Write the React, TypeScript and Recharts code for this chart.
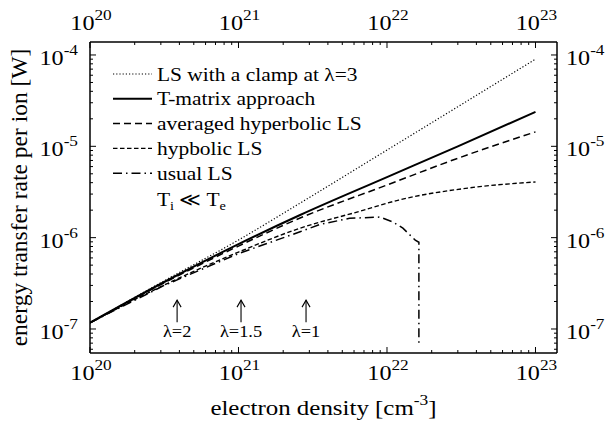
import React from "react";
import { LineChart, Line, XAxis, YAxis, Legend, ReferenceDot } from "recharts";

const FONT = "Liberation Serif, DejaVu Serif, serif";
const txt = { fontFamily: FONT };

// electron density [cm^-3]  ->  energy transfer rate per ion [W]
const clampN = [1e20, 3.16e20, 1e21, 2.6e21, 1e22, 1e23];
const clampW = [1.17e-7, 3.37e-7, 9.42e-7, 2.39e-6, 9.1e-6, 9.0e-5];

const tmatN = [1e20, 3.16e20, 1e21, 2.6e21, 1e22, 3e22, 1e23];
const tmatW = [1.17e-7, 3.27e-7, 8.5e-7, 1.77e-6, 4.6e-6, 1.0e-5, 2.38e-5];

const avgHypN = [1e20, 3.16e20, 1e21, 2.6e21, 1e22, 3e22, 1e23];
const avgHypW = [1.17e-7, 3.2e-7, 8.09e-7, 1.64e-6, 3.77e-6, 7.4e-6, 1.44e-5];

const hypN = [1e20, 3.16e20, 1e21, 2.6e21, 6.6e21, 1.2e22, 3.5e22, 1e23];
const hypW = [1.17e-7, 3.03e-7, 6.95e-7, 1.27e-6, 1.95e-6, 2.58e-6, 3.49e-6, 4.07e-6];

const usualN = [1e20, 3.16e20, 1e21, 2.6e21, 3.5e21, 5.6e21, 9e21, 1.1e22, 1.28e22, 1.55e22, 1.64e22, 1.64e22];
const usualW = [1.17e-7, 3.0e-7, 6.7e-7, 1.16e-6, 1.39e-6, 1.63e-6, 1.68e-6, 1.48e-6, 1.27e-6, 9.4e-7, 8.9e-7, 6.7e-8];

// arrows marking the lambda values
const arrowN = [3.86e20, 1.04e21, 2.85e21];
const arrowLabels = ["λ=2", "λ=1.5", "λ=1"];
const ARROW_TIP_W = 2.07e-7;

// axis ranges and ticks
const X_MIN = 1e20;
const X_MAX = 1.396e23;
const Y_MIN = 5.46e-8;
const Y_MAX = 1.387e-4;
const xDecades = [20, 21, 22, 23];
const yDecades = [-8, -7, -6, -5, -4];
const minorSteps = [1, 2, 3, 4, 5, 6, 7, 8, 9];

const xTicks = xDecades
    .flatMap((e) => minorSteps.map((m) => m * Math.pow(10, e)))
    .filter((v) => v >= X_MIN && v <= X_MAX);
const yTicks = yDecades
    .flatMap((e) => minorSteps.map((m) => m * Math.pow(10, e)))
    .filter((v) => v >= Y_MIN && v <= Y_MAX);

const toRows = (ns: number[], ws: number[]) => ns.map((n, i) => ({ n, w: ws[i] }));

const series = [
    { key: "clamp", name: "LS with a clamp at λ=3", data: toRows(clampN, clampW), dash: "1.2 2", width: 1.2, curve: "monotone" },
    { key: "tmat", name: "T-matrix approach", data: toRows(tmatN, tmatW), dash: undefined, width: 2, curve: "monotone" },
    { key: "avgHyp", name: "averaged hyperbolic LS", data: toRows(avgHypN, avgHypW), dash: "7 4", width: 1.5, curve: "monotone" },
    { key: "hyp", name: "hypbolic LS", data: toRows(hypN, hypW), dash: "4.5 2.5", width: 1.4, curve: "monotone" },
    { key: "usual", name: "usual LS", data: toRows(usualN, usualW), dash: "9 4 1.5 4", width: 1.5, curve: "linear" },
];

// the reference text is a little wide, so text is stretched horizontally
const SText = ({ x, y, sx = 1, anchor = "start", size, children }: any) => (
    <g transform={`translate(${x} ${y}) scale(${sx} 1)`}>
        <text x={0} y={0} textAnchor={anchor} style={txt} fontSize={size} fill="#000">
            {children}
        </text>
    </g>
);

const decadeOf = (v: number) => {
    const lg = Math.log10(v);
    const e = Math.round(lg);
    return { e, major: Math.abs(lg - e) < 1e-6 };
};

const Pow10 = ({ x, y, e, anchor }: any) => (
    <SText x={x} y={y} sx={1.15} anchor={anchor} size={21}>
        10
        <tspan dy={-10} fontSize={15}>
            {e}
        </tspan>
    </SText>
);

const XTick = ({ x, y, payload, side }: any) => {
    const { e, major } = decadeOf(payload.value);
    const dir = side === "top" ? 1 : -1;
    const len = major ? 6 : 3;
    return (
        <g>
            <line x1={x} x2={x} y1={y} y2={y + dir * len} stroke="#000" strokeWidth={1} />
            {major && <Pow10 x={x + 1} y={side === "top" ? y - 12 : y + 27} e={e} anchor="middle" />}
        </g>
    );
};

const YTick = ({ x, y, payload, side }: any) => {
    const { e, major } = decadeOf(payload.value);
    const dir = side === "left" ? 1 : -1;
    const len = major ? 6 : 3;
    return (
        <g>
            <line x1={x} x2={x + dir * len} y1={y} y2={y} stroke="#000" strokeWidth={1} />
            {major && (
                <Pow10
                    x={side === "left" ? x - 12 : x + 9}
                    y={y + 10}
                    e={e}
                    anchor={side === "left" ? "end" : "start"}
                />
            )}
        </g>
    );
};

const ArrowMark = ({ cx, cy, text }: any) => (
    <g>
        <line x1={cx} x2={cx} y1={cy} y2={cy + 22} stroke="#000" strokeWidth={1.1} />
        <polyline
            points={`${cx - 4},${cy + 7} ${cx},${cy} ${cx + 4},${cy + 7}`}
            fill="none"
            stroke="#000"
            strokeWidth={1.1}
        />
        <SText x={cx} y={cy + 37} sx={1.08} anchor="middle" size={17}>
            {text}
        </SText>
    </g>
);

const renderLegend = () => (
    <svg width={280} height={160} style={{ display: "block" }}>
        {series.map((s, i) => {
            const ly = 14 + 24.8 * i;
            return (
                <g key={s.key}>
                    <line
                        x1={3}
                        x2={42}
                        y1={ly}
                        y2={ly}
                        stroke="#000"
                        strokeWidth={s.width}
                        strokeDasharray={s.dash}
                    />
                    <SText x={47} y={ly + 6.5} sx={1.1} size={19.5}>
                        {s.name}
                    </SText>
                </g>
            );
        })}
        <SText x={47} y={146} sx={1.1} size={19.5}>
            T
            <tspan dy={4} fontSize={13}>
                i
            </tspan>
            <tspan dy={-4}> ≪ T</tspan>
            <tspan dy={4} fontSize={13}>
                e
            </tspan>
        </SText>
    </svg>
);

export default function App() {
    return (
        <div style={{ width: 609, height: 421, background: "#fff", fontFamily: FONT }}>
            <style>{"body{margin:0;background:#fff}"}</style>
            <LineChart
                width={609}
                height={421}
                margin={{ top: 12, right: 0, bottom: 28, left: 30 }}
                style={{ fontFamily: FONT }}
            >
                <XAxis
                    xAxisId="b"
                    type="number"
                    dataKey="n"
                    scale="log"
                    domain={[X_MIN, X_MAX]}
                    allowDataOverflow
                    ticks={xTicks}
                    interval={0}
                    tickSize={0}
                    tickMargin={0}
                    height={40}
                    axisLine={{ stroke: "#000", strokeWidth: 1.5 }}
                    tickLine={false}
                    tick={(p: any) => <XTick {...p} side="bottom" />}
                    label={{
                        content: ({ viewBox }: any) => (
                            <SText
                                x={viewBox.x + viewBox.width / 2}
                                y={viewBox.y + 62}
                                sx={1.16}
                                anchor="middle"
                                size={21.5}
                            >
                                electron density [cm
                                <tspan dy={-10} fontSize={15}>
                                    -3
                                </tspan>
                                <tspan dy={10}>]</tspan>
                            </SText>
                        ),
                    }}
                />
                <XAxis
                    xAxisId="t"
                    orientation="top"
                    type="number"
                    dataKey="n"
                    scale="log"
                    domain={[X_MIN, X_MAX]}
                    allowDataOverflow
                    ticks={xTicks}
                    interval={0}
                    tickSize={0}
                    tickMargin={0}
                    height={30}
                    axisLine={{ stroke: "#000", strokeWidth: 1.5 }}
                    tickLine={false}
                    tick={(p: any) => <XTick {...p} side="top" />}
                />
                <YAxis
                    yAxisId="l"
                    type="number"
                    scale="log"
                    domain={[Y_MIN, Y_MAX]}
                    allowDataOverflow
                    ticks={yTicks}
                    interval={0}
                    tickSize={0}
                    tickMargin={0}
                    width={60}
                    axisLine={{ stroke: "#000", strokeWidth: 1.5 }}
                    tickLine={false}
                    tick={(p: any) => <YTick {...p} side="left" />}
                    label={{
                        content: ({ viewBox }: any) => {
                            const cy = viewBox.y + viewBox.height / 2;
                            return (
                                <text
                                    x={27}
                                    y={cy}
                                    transform={`rotate(-90 27 ${cy})`}
                                    textAnchor="middle"
                                    style={txt}
                                    fontSize={23.5}
                                    fill="#000"
                                >
                                    energy transfer rate per ion [W]
                                </text>
                            );
                        },
                    }}
                />
                <YAxis
                    yAxisId="r"
                    orientation="right"
                    type="number"
                    scale="log"
                    domain={[Y_MIN, Y_MAX]}
                    allowDataOverflow
                    ticks={yTicks}
                    interval={0}
                    tickSize={0}
                    tickMargin={0}
                    width={52}
                    axisLine={{ stroke: "#000", strokeWidth: 1.5 }}
                    tickLine={false}
                    tick={(p: any) => <YTick {...p} side="right" />}
                />
                <Legend
                    layout="vertical"
                    align="center"
                    verticalAlign="middle"
                    wrapperStyle={{ position: "absolute", left: 110, top: 60, width: 280, height: 160 }}
                    content={renderLegend}
                />
                {series.map((s) => (
                    <Line
                        key={s.key}
                        xAxisId="b"
                        yAxisId="l"
                        data={s.data}
                        dataKey="w"
                        name={s.name}
                        type={s.curve as any}
                        stroke="#000"
                        strokeWidth={s.width}
                        strokeDasharray={s.dash}
                        dot={false}
                        activeDot={false}
                        isAnimationActive={false}
                    />
                ))}
                {arrowN.map((n, i) => (
                    <ReferenceDot
                        key={arrowLabels[i]}
                        xAxisId="b"
                        yAxisId="l"
                        x={n}
                        y={ARROW_TIP_W}
                        r={0}
                        shape={(p: any) => <ArrowMark cx={p.cx} cy={p.cy} text={arrowLabels[i]} />}
                    />
                ))}
            </LineChart>
        </div>
    );
}
